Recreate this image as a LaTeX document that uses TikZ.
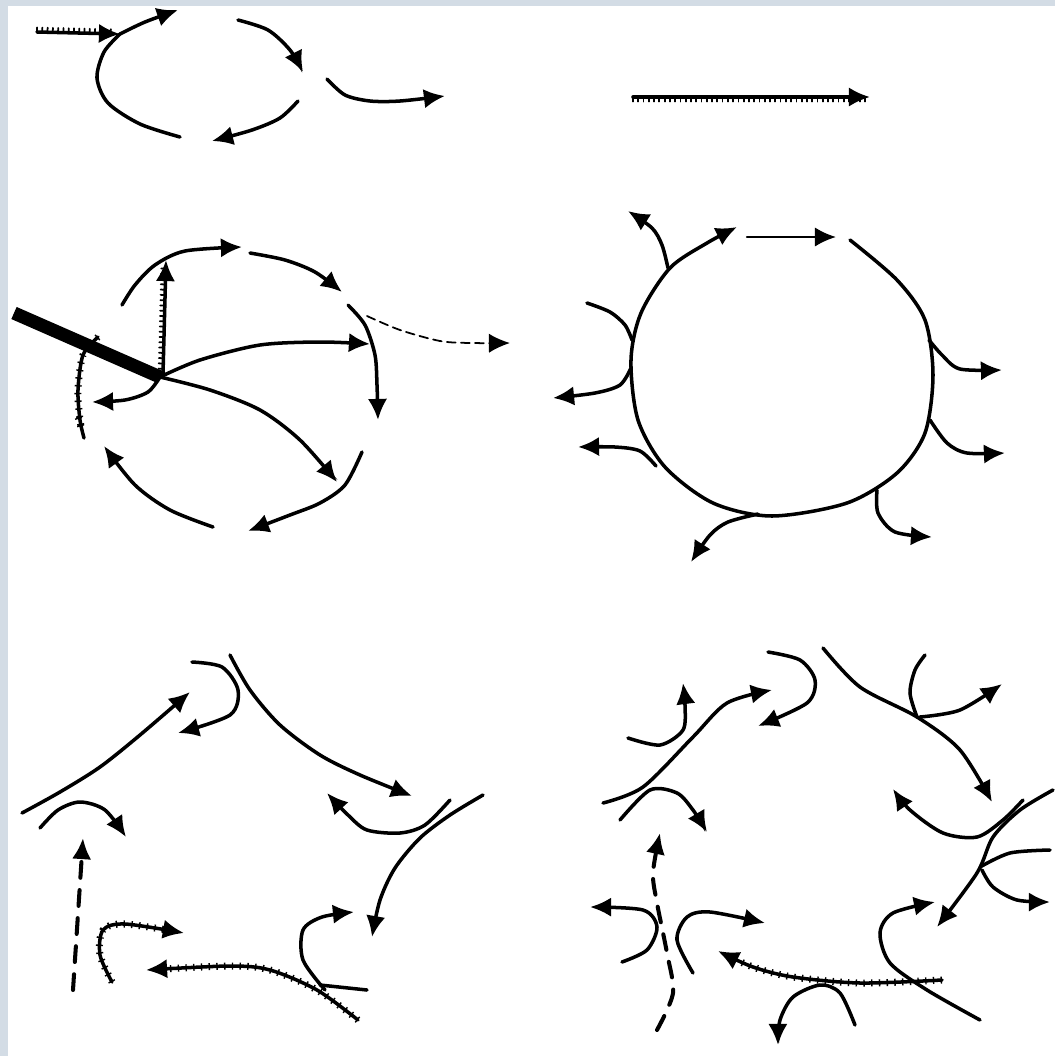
\documentclass[tikz,border=0pt]{standalone}
\usepackage{tikz}
\usetikzlibrary{arrows.meta}
\usetikzlibrary{decorations.pathreplacing}

\begin{document}
\begin{tikzpicture}[x=0.02cm, y=-0.02cm, line width=2pt, line cap=round,
    flow/.style={-{Latex[length=12pt, width=11pt]}},
    stem/.style={-},
    teeth/.style={postaction={draw, -, line width=1pt, decorate,
        decoration={border, segment length=3pt, amplitude=2.6pt, angle=90}}},
    teethup/.style={postaction={draw, -, line width=1pt, decorate,
        decoration={border, segment length=3pt, amplitude=2.6pt, angle=-90}}},
    hatched/.style={postaction={draw, -, line width=4pt, line cap=butt,
        dash pattern=on 0.8pt off 3.6pt, shorten >=13pt}},
    leak/.style={-{Latex[length=12pt, width=11pt]}, line width=1pt, dash pattern=on 5pt off 3pt},
    dashstem/.style={-{Latex[length=12pt, width=11pt]}, line width=2.3pt, dash pattern=on 9pt off 7pt}]
    \definecolor{frame}{HTML}{D3DCE5}
    \useasboundingbox (0,0) rectangle (1055,1056);
    \fill[frame] (0,0) rectangle (1055,6);
    \fill[frame] (0,0) rectangle (8,1056);
    % top left: loop with outflow
    \coordinate (hub1) at (120,34);
    \draw[flow, teeth] (37,32) -- (hub1);
    \draw[flow] plot[smooth] coordinates {(hub1) (145,22) (178,10)};
    \draw[stem] plot[smooth] coordinates {(hub1) (104,52) (97,78) (108,103) (140,124) (180,137)};
    \draw[flow] plot[smooth] coordinates {(238,20) (268,30) (290,50) (303,72)};
    \draw[flow] plot[smooth] coordinates {(298,101) (280,118) (252,130) (212,141)};
    \draw[flow] plot[smooth] coordinates {(327,79) (345,95) (370,101) (400,101) (445,96)};
    % top right: single arrow
    \draw[flow, teethup] (633,97) -- (870,97);
    % middle left: hub with bar
    \coordinate (hub2) at (160,377);
    \draw[line width=7.5pt, line cap=butt] (14,313) -- (hub2);
    \draw[flow, teeth] (163,374) -- (166,260);
    \draw[flow] plot[smooth] coordinates {(122,305) (135,285) (155,265) (185,251) (242,247)};
    \draw[flow] plot[smooth] coordinates {(250,253) (285,260) (315,272) (342,292)};
    \draw[flow] plot[smooth] coordinates {(hub2) (200,360) (260,345) (320,342) (370,344)};
    \draw[flow] plot[smooth] coordinates {(348,305) (365,325) (375,355) (377,385) (378,420)};
    \draw[leak] plot[smooth] coordinates {(367,316) (400,330) (440,341) (470,343) (510,343)};
    \draw[flow] plot[smooth] coordinates {(hub2) (210,390) (260,410) (300,440) (337,482)};
    \draw[flow] plot[smooth] coordinates {(hub2) (148,392) (125,400) (92,402)};
    \draw[stem, hatched] plot[smooth] coordinates {(98,337) (83,355) (78,390) (80,420) (84,438)};
    \draw[flow] plot[smooth] coordinates {(213,527) (170,510) (135,485) (104,446)};
    \draw[flow] plot[smooth] coordinates {(362,452) (345,485) (320,503) (290,515) (248,531)};
    % middle right: ring with side branches
    \draw[flow] plot[smooth] coordinates {(850,240) (897,280) (925,320) (933,375) (925,433) (897,473) (847,503) (772,516) (713,503) (665,467) (638,420) (631,360) (641,313) (670,268) (707,243) (737,227)};
    \draw[flow, line width=1.4pt] (747,237) -- (836,237);
    \draw[flow] plot[smooth] coordinates {(668,268) (662,245) (652,228) (628,211)};
    \draw[stem] plot[smooth] coordinates {(587,303) (610,312) (625,325) (632,340)};
    \draw[flow] plot[smooth] coordinates {(631,368) (620,385) (595,393) (553,398)};
    \draw[flow] plot[smooth] coordinates {(656,466) (640,451) (615,447) (578,447)};
    \draw[flow] plot[smooth] coordinates {(758,514) (728,522) (710,535) (691,562)};
    \draw[flow] plot[smooth] coordinates {(877,490) (878,513) (895,532) (932,537)};
    \draw[flow] plot[smooth] coordinates {(930,420) (947,443) (967,453) (1005,453)};
    \draw[flow] plot[smooth] coordinates {(929,340) (942,355) (960,369) (1002,370)};
    % bottom left: broken cycle
    \draw[flow] plot[smooth] coordinates {(22,813) (60,792) (100,767) (140,735) (190,692)};
    \draw[flow] plot[smooth] coordinates {(192,662) (222,667) (238,690) (230,715) (178,733)};
    \draw[flow] plot[smooth] coordinates {(230,655) (250,690) (280,725) (320,755) (360,775) (412,796)};
    \draw[flow] plot[smooth] coordinates {(40,828) (58,810) (80,802) (105,810) (126,837)};
    \draw[dashstem] (73,990) -- (83,838);
    \draw[flow, hatched] plot[smooth] coordinates {(112,982) (100,955) (103,930) (125,924) (184,933)};
    \draw[flow, hatched] plot[smooth] coordinates {(358,1020) (317,990) (270,970) (230,966) (146,970)};
    \draw[flow] plot[smooth] coordinates {(325,990) (303,960) (303,930) (322,917) (354,912)};
    \draw[stem] (367,990) -- (320,985);
    \draw[flow] plot[smooth] coordinates {(483,795) (450,815) (420,838) (395,868) (380,900) (372,937)};
    \draw[flow] plot[smooth] coordinates {(450,800) (425,825) (400,833) (367,830) (348,815) (327,793)};
    % bottom right: cycle with side branches
    \draw[flow] plot[smooth] coordinates {(603,803) (643,787) (693,737) (727,703) (772,690)};
    \draw[flow] plot[smooth] coordinates {(628,738) (660,745) (683,730) (685,705) (683,683)};
    \draw[flow] plot[smooth] coordinates {(768,652) (800,660) (815,680) (807,703) (758,726)};
    \draw[flow] plot[smooth] coordinates {(823,648) (860,687) (917,717) (960,750) (992,802)};
    \draw[stem] plot[smooth] coordinates {(917,717) (910,693) (915,670) (925,655)};
    \draw[flow] plot[smooth] coordinates {(920,717) (960,710) (1002,684)};
    \draw[flow] plot[smooth] coordinates {(620,820) (650,790) (677,793) (693,810) (707,832)};
    \draw[dashstem] plot[smooth] coordinates {(657,1030) (673,993) (667,953) (657,903) (653,873) (660,833)};
    \draw[flow] plot[smooth] coordinates {(622,962) (647,950) (657,927) (643,910) (590,907)};
    \draw[flow] plot[smooth] coordinates {(693,973) (677,940) (687,917) (710,912) (765,923)};
    \draw[flow, hatched] plot[smooth] coordinates {(942,980) (860,983) (793,977) (753,967) (718,951)};
    \draw[flow] plot[smooth] coordinates {(980,1020) (927,990) (890,963) (880,933) (893,913) (935,902)};
    \draw[flow] plot[smooth] coordinates {(855,1025) (840,993) (820,985) (793,997) (780,1020) (778,1045)};
    \draw[flow] plot[smooth] coordinates {(1053,790) (1020,810) (993,837) (977,873) (937,927)};
    \draw[flow] plot[smooth] coordinates {(1023,800) (1003,820) (977,837) (943,833) (910,810) (893,789)};
    \draw[stem] plot[smooth] coordinates {(980,867) (1010,853) (1050,850)};
    \draw[flow] plot[smooth] coordinates {(982,870) (993,887) (1017,900) (1050,902)};
\end{tikzpicture}
\end{document}
